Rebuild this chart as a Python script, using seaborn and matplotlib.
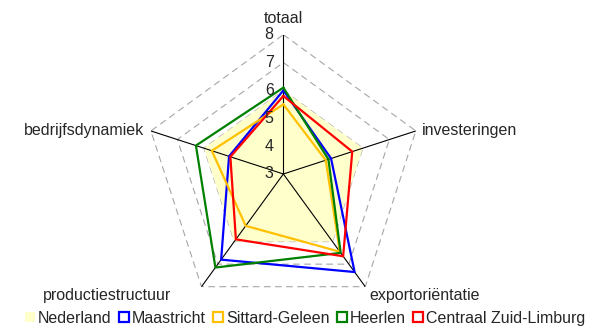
import numpy as np
import pandas as pd
import matplotlib
matplotlib.use("Agg")
import matplotlib.pyplot as plt
from matplotlib.patches import Patch
import seaborn as sns

# axes of the radar, clockwise from the top
categories = ["totaal", "investeringen", "exportoriëntatie", "productiestructuur", "bedrijfsdynamiek"]

# scores per region
nederland = [6.0, 6.0, 6.0, 6.0, 6.0]
maastricht = [6.0, 4.8, 7.35, 6.8, 5.05]
sittard_geleen = [5.5, 4.6, 6.45, 5.3, 5.7]
heerlen = [6.1, 4.7, 6.5, 7.15, 6.3]
centraal_zl = [5.8, 5.6, 6.65, 5.9, 5.0]

series_names = ["Maastricht", "Sittard-Geleen", "Heerlen", "Centraal Zuid-Limburg"]
series_values = [maastricht, sittard_geleen, heerlen, centraal_zl]
series_colors = ["#0000FF", "#FFC000", "#008000", "#FF0000"]

r_ticks = [3, 4, 5, 6, 7, 8]

sns.set_style("white")
plt.rcParams["font.family"] = ["Liberation Sans", "DejaVu Sans"]

n = len(categories)
theta = np.linspace(0, 2 * np.pi, n, endpoint=False)
theta_closed = np.append(theta, 2 * np.pi)

# long table for seaborn, loop closed by repeating the first value
rows = []
for name, vals in zip(series_names, series_values):
    for i, t in enumerate(theta_closed):
        rows.append({"theta": t, "score": vals[i % n], "regio": name})
df = pd.DataFrame(rows)

fig = plt.figure(figsize=(5.96, 3.31), dpi=100)
ax = fig.add_axes([0.2417, 0.0535, 0.4675, 0.8417], projection="polar")
ax.set_theta_zero_location("N")
ax.set_theta_direction(-1)
ax.set_ylim(r_ticks[0], r_ticks[-1])
ax.grid(False)
ax.spines["polar"].set_visible(False)
ax.set_xticks([])
ax.set_yticks([])

# pentagon grid (dashed) and spokes
for v in r_ticks[1:]:
    ax.plot(theta_closed, [v] * (n + 1), color="#a6a6a6", lw=0.8,
            dashes=(6, 4), zorder=1)

# Nederland as filled area
ax.fill(theta_closed, nederland + nederland[:1], color="#FFFFCC", lw=0, zorder=2)

for t in theta:
    ax.plot([t, t], [r_ticks[0], r_ticks[-1]], color="black", lw=0.8, zorder=3)

sns.lineplot(data=df, x="theta", y="score", hue="regio", hue_order=series_names,
             palette=series_colors, sort=False, estimator=None, lw=1.6,
             legend=False, ax=ax, zorder=4)
ax.set_xlabel("")
ax.set_ylabel("")

# radial tick labels along the top spoke
for v in r_ticks:
    ax.annotate(str(v), xy=(0, v), xytext=(-7, 0), textcoords="offset points",
                ha="right", va="center", fontsize=11.5, zorder=5)

# category labels
label_pos = [((0, 6), "center", "bottom"),
             ((4, 0), "left", "center"),
             ((3, -1), "left", "top"),
             ((-22, -1), "right", "top"),
             ((-5, 0), "right", "center")]
for t, cat, (off, ha, va) in zip(theta, categories, label_pos):
    ax.annotate(cat, xy=(t, r_ticks[-1]), xytext=off, textcoords="offset points",
                ha=ha, va=va, fontsize=11.5, annotation_clip=False)

handles = [Patch(facecolor="#FFFFCC", edgecolor="none", label="Nederland")]
for name, col in zip(series_names, series_colors):
    handles.append(Patch(facecolor="white", edgecolor=col, lw=1.6, label=name))
fig.legend(handles=handles, loc="center", bbox_to_anchor=(0.512, 0.039), ncol=5,
           frameon=False, fontsize=11.5, handlelength=0.65, handleheight=0.65,
           handletextpad=0.2, columnspacing=0.42, borderaxespad=0)

fig.savefig("out.png", dpi=100)
